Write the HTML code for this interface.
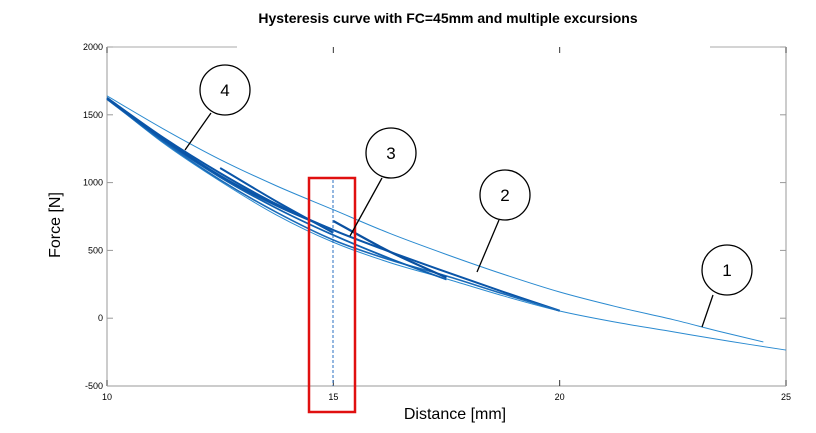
<!DOCTYPE html>
<html><head><meta charset="utf-8"><style>
body{margin:0;background:#fff;width:816px;height:428px;overflow:hidden}
text{font-family:"Liberation Sans",sans-serif}
</style></head><body>
<svg width="816" height="428" xmlns="http://www.w3.org/2000/svg">
<text x="448" y="23" text-anchor="middle" font-size="14" font-weight="bold">Hysteresis curve with FC=45mm and multiple excursions</text>
<g id="axes"></g>
<g id="series"></g>
<text x="455" y="419" text-anchor="middle" font-size="16">Distance [mm]</text>
<text transform="translate(60,225) rotate(-90)" text-anchor="middle" font-size="16">Force [N]</text>
</svg>
<script>
const xTicks=[10,15,20,25];
const yTicks=[-500,0,500,1000,1500,2000];
const upper1X=[10,11.25,12.5,13.75,15,16.25,17.5,18.75,20,21.25,22.5,23.5,24.5];
const upper1Y=[1640,1395,1170,975,800,625,470,325,193,85,-10,-95,-175];
const lower1X=[10,11.25,12.5,13.75,15,16.25,17.5,18.75,20,21.25,22.5,23.75,25];
const lower1Y=[1620,1290,1010,760,560,410,290,165,53,-30,-100,-170,-235];
const loop2UpX=[10,11.25,12.5,13.75,15,16.25,17.5,18.75,20];
const loop2UpY=[1625,1330,1070,840,650,490,340,195,55];
const loop2LoX=[10,11.25,12.5,13.75,15,16.25,17.5,18.75,20];
const loop2LoY=[1615,1300,1020,780,577,430,311,180,55];
const loop3LoX=[10,11.25,12.5,13.75,15,16.25,17.5];
const loop3LoY=[1620,1310,1040,810,613,440,285];
const loop3UpX=[15,16.25,17.5];
const loop3UpY=[717,490,300];
const loop4UpX=[12.5,13.75,15];
const loop4UpY=[1108,860,630];
const loop4LoX=[10,11.25,12.5,13.75,15];
const loop4LoY=[1620,1320,1050,830,650];

const X0=107,X1=786,Y0=386,Y1=47;
const sx=v=>X0+(v-10)/15*(X1-X0);
const sy=v=>Y0-(v+500)/2500*(Y0-Y1);
const NS="http://www.w3.org/2000/svg";
function mk(tag,attrs,parent){const e=document.createElementNS(NS,tag);for(const k in attrs)e.setAttribute(k,attrs[k]);parent.appendChild(e);return e;}
const ax=document.getElementById('axes');
let l;
l=mk('line',{x1:X0,y1:Y1,x2:X0,y2:Y0,stroke:'#999','stroke-width':1},ax);


l=mk('line',{x1:X0,y1:Y0,x2:X1,y2:Y0,stroke:'#999','stroke-width':1},ax);


l=mk('line',{x1:X1,y1:Y1,x2:X1,y2:Y0,stroke:'#999','stroke-width':1},ax);


l=mk('line',{x1:X0,y1:Y1,x2:237,y2:Y1,stroke:'#aaa','stroke-width':1},ax);


l=mk('line',{x1:710,y1:Y1,x2:X1,y2:Y1,stroke:'#aaa','stroke-width':1},ax);


xTicks.forEach(v=>{
  const x=sx(v);
  let t=mk('line',{x1:x,y1:Y0,x2:x,y2:Y0-6,stroke:'#333'},ax);
  
  
  t=mk('line',{x1:x,y1:Y1,x2:x,y2:Y1+6,stroke:'#333'},ax);
  
  
  const tx=mk('text',{x:x,y:Y0+14,'text-anchor':'middle','font-size':9},ax);
  tx.textContent=v;
  
  
});
yTicks.forEach(v=>{
  const y=sy(v);
  let t=mk('line',{x1:X0,y1:y,x2:X0+6,y2:y,stroke:'#999'},ax);
  
  
  t=mk('line',{x1:X1,y1:y,x2:X1-6,y2:y,stroke:'#999'},ax);
  
  
  const tx=mk('text',{x:X0-4,y:y+3,'text-anchor':'end','font-size':9},ax);
  tx.textContent=v;
  
  
});
function pathFrom(xs,ys){
  const p=xs.map((x,i)=>[sx(x),sy(ys[i])]);
  let d='M'+p[0][0]+','+p[0][1];
  for(let i=0;i<p.length-1;i++){
    const p0=p[Math.max(0,i-1)],p1=p[i],p2=p[i+1],p3=p[Math.min(p.length-1,i+2)];
    const c1=[p1[0]+(p2[0]-p0[0])/6,p1[1]+(p2[1]-p0[1])/6];
    const c2=[p2[0]-(p3[0]-p1[0])/6,p2[1]-(p3[1]-p1[1])/6];
    d+=' C'+c1+' '+c2+' '+p2;
  }
  return d;
}
const sg=document.getElementById('series');
function drawSeries(xs,ys,color,w,name){
  const e=mk('path',{d:pathFrom(xs,ys),fill:'none',stroke:color,'stroke-width':w},sg);
  
  
}
drawSeries(upper1X,upper1Y,'#2a8ad0',1,'curve-1-upper');
drawSeries(lower1X,lower1Y,'#2a8ad0',1,'curve-1-lower');
drawSeries(loop2UpX,loop2UpY,'#0a55a8',2,'curve-2-upper');
drawSeries(loop2LoX,loop2LoY,'#1a6ab8',1.6,'curve-2-lower');
drawSeries(loop3LoX,loop3LoY,'#1060b0',1.8,'curve-3-lower');
drawSeries(loop3UpX,loop3UpY,'#0a50a0',2.2,'curve-3-upper');
drawSeries(loop4UpX,loop4UpY,'#0a55a8',2,'curve-4-upper');
drawSeries(loop4LoX,loop4LoY,'#0a55a8',2.2,'curve-4-lower');
</script>
<svg width="816" height="428" style="position:absolute;left:0;top:0">
<line x1="333" y1="180" x2="333" y2="386" stroke="#2a6fc0" stroke-width="1" stroke-dasharray="3,2"/>
<rect x="309" y="178" width="46" height="234" fill="none" stroke="#e01010" stroke-width="2.5"/>
<g fill="#fff" stroke="#000" stroke-width="1.3">
<line x1="211" y1="113" x2="185" y2="150"/>
<circle cx="225" cy="90" r="25"/>
<line x1="382" y1="178" x2="350" y2="236"/>
<circle cx="391" cy="153" r="25"/>
<line x1="499" y1="220" x2="477" y2="272"/>
<circle cx="505" cy="195" r="25"/>
<line x1="713" y1="295" x2="702" y2="327"/>
<circle cx="727" cy="270" r="25"/>
</g>
<g font-family="Liberation Sans" font-size="17" text-anchor="middle" fill="#000">
<text x="225" y="96">4</text>
<text x="391" y="159">3</text>
<text x="505" y="201">2</text>
<text x="727" y="276">1</text>
</g>
</svg>
</body></html>
